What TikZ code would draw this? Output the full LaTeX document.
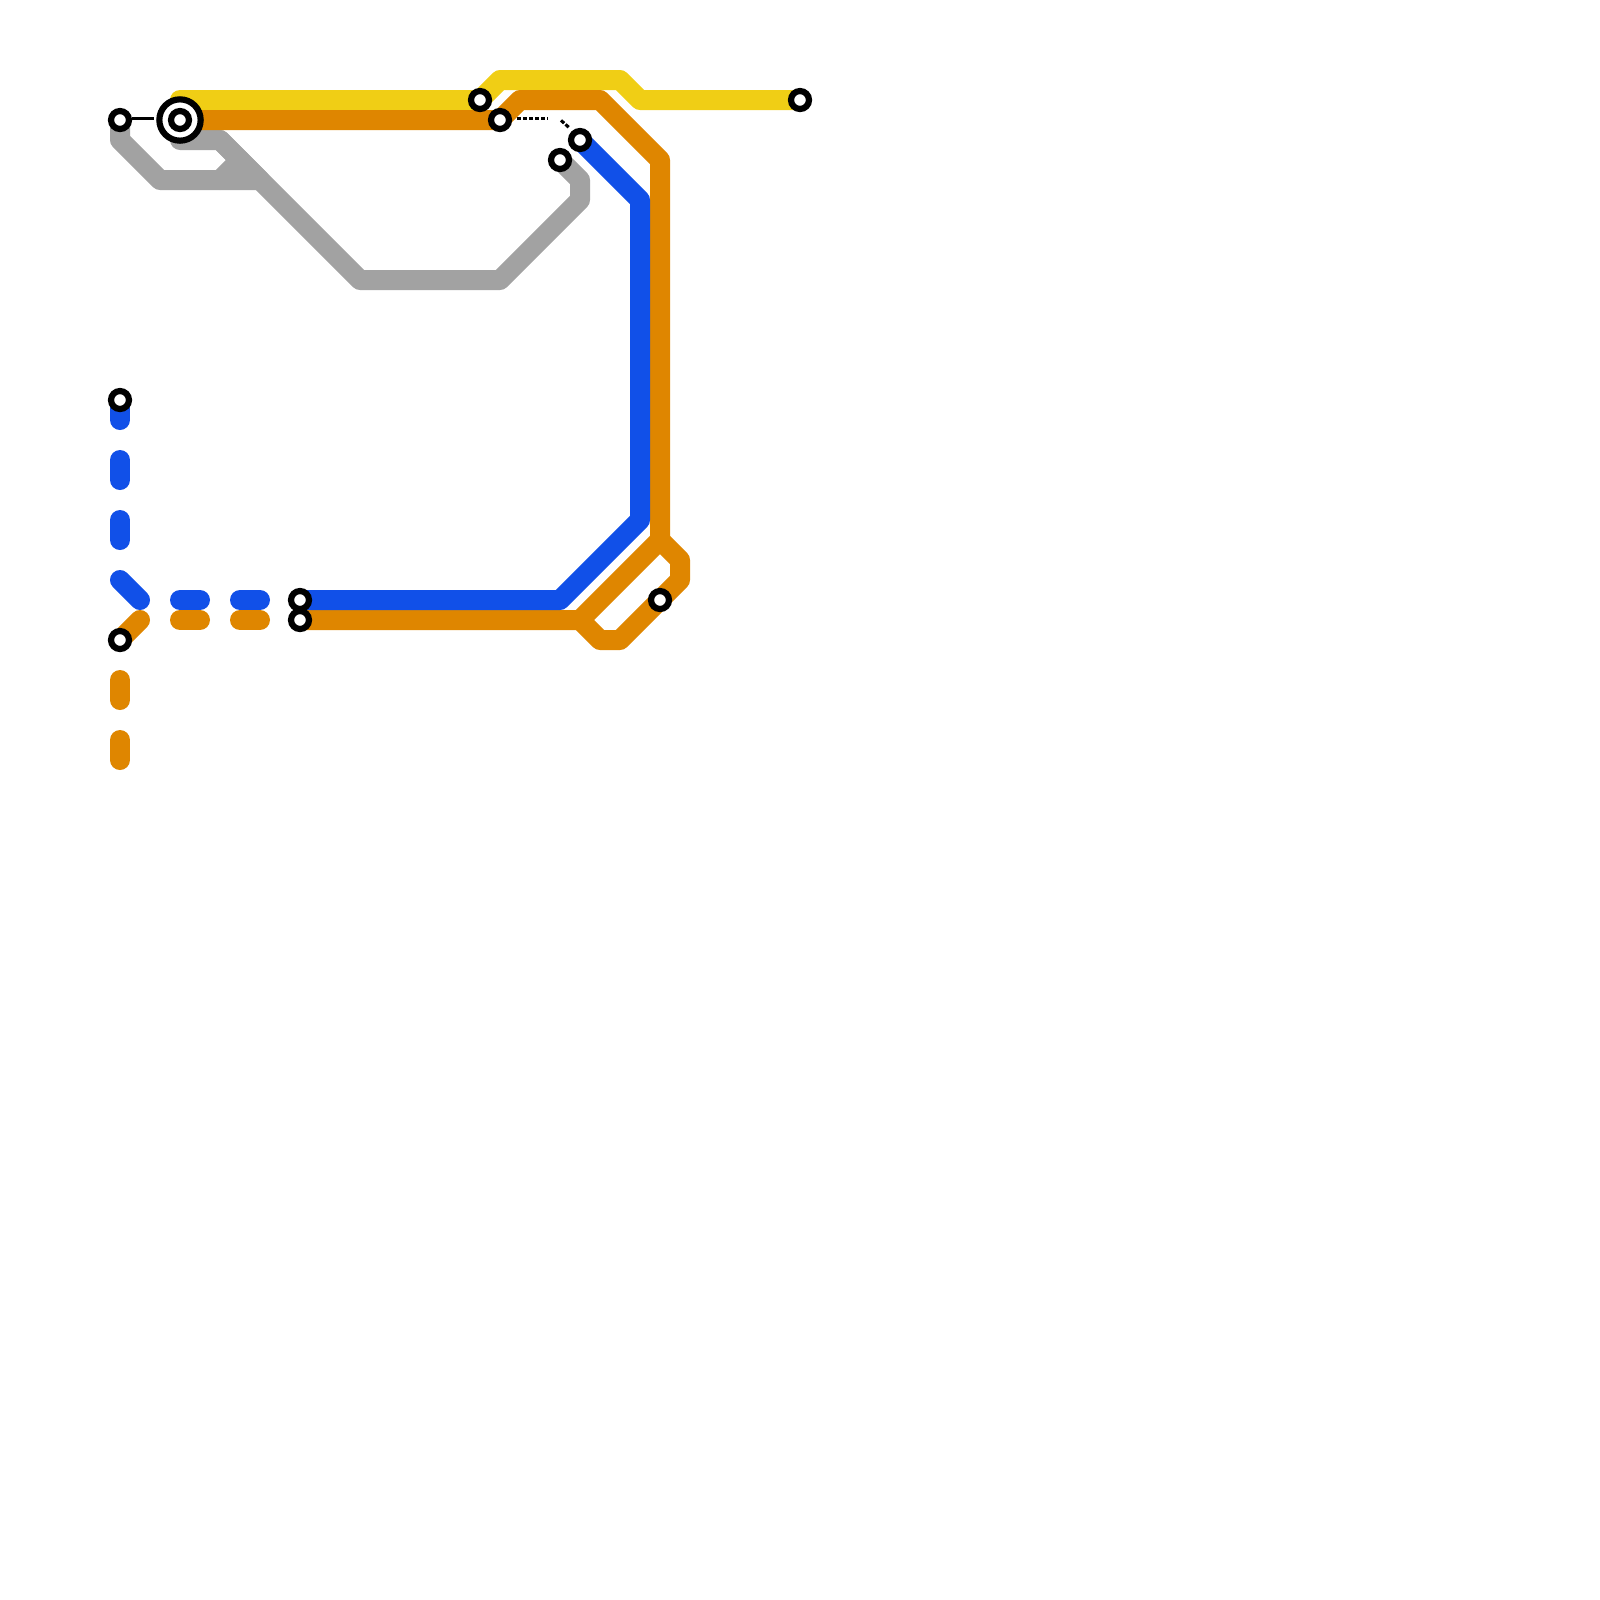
\documentclass[tikz,border=0pt]{standalone}
\usetikzlibrary{backgrounds}
\definecolor{lineyellow}{HTML}{F0CE15}
\definecolor{lineorange}{HTML}{DF8600}
\definecolor{lineblue}{HTML}{1150E8}
\definecolor{linegray}{HTML}{A2A2A2}
\begin{document}
\begin{tikzpicture}[
    x=0.25cm, y=-0.25cm,
    stop/.style={circle, draw=black, fill=white, line width=2.2pt, minimum size=6.4pt, inner sep=0pt, outer sep=0pt},
    bigstop/.style={circle, draw=black, fill=white, line width=2.2pt, minimum size=14.7pt, inner sep=0pt, outer sep=0pt},
    route/.style={line width=0.25cm, line cap=round, line join=round},
    link/.style={line width=1.1pt, black},
    dashlink/.style={link, dash pattern=on 1.5pt off 0.65pt}
]
    \useasboundingbox (0,0) rectangle (80,80);
    \node[stop] (westtop)  at (6,6)    {};
    \node[bigstop] (hubring) at (9,6)  {};
    \node[stop] (hub)      at (9,6)    {};
    \node[stop] (yellowa)  at (24,5)   {};
    \node[stop] (orangea)  at (25,6)   {};
    \node[stop] (graya)    at (28,8)   {};
    \node[stop] (bluea)    at (29,7)   {};
    \node[stop] (yellowb)  at (40,5)   {};
    \node[stop] (blueb)    at (6,20)   {};
    \node[stop] (bluec)    at (15,30)  {};
    \node[stop] (orangeb)  at (15,31)  {};
    \node[stop] (orangec)  at (33,30)  {};
    \node[stop] (oranged)  at (6,32)   {};
    \coordinate (grayend) at (9,7);
    \coordinate (linkwest) at (6.6,5.94);
    \coordinate (linkhub) at (7.68,5.94);
    \coordinate (linka) at (25.85,5.94);
    \coordinate (linkb) at (27.4,5.94);
    \coordinate (linkc) at (28.05,6.02);
    \coordinate (linkd) at (28.5,6.42);
    \begin{scope}[on background layer]
        % gray
        \draw[route, linegray] (westtop.center) -- ++(0,1) -- ++(2,2) -- ++(5,0) -- ++(-2,-2) -- (grayend);
        \draw[route, linegray] (11,9) -- (12,8);
        \draw[route, linegray] (11,7) -- ++(7,7) -- ++(7,0) -- ++(4,-4) -- ++(0,-1) -- (graya.center);
        % yellow
        \draw[route, lineyellow] (hub.center) ++(0,-1) -- (yellowa.center) -- ++(1,-1) -- ++(6,0) -- ++(1,1) -- (yellowb.center);
        % orange
        \draw[route, lineorange] (hub.center) -- (orangea.center) -- ++(1,-1) -- ++(4,0) -- ++(3,3) -- ++(0,19) -- ++(-4,4) -- (orangeb.center);
        \draw[route, lineorange] (33,27) -- ++(1,1) -- ++(0,1) -- (orangec.center) -- ++(-2,2) -- ++(-1,0) -- ++(-1,-1);
        \draw[route, lineorange] (oranged.center) -- ++(1,-1);
        \foreach \xa in {9,12} \draw[route, lineorange] (\xa,31) -- ++(1,0);
        \foreach \ya in {34,37} \draw[route, lineorange] (6,\ya) -- ++(0,1);
        % blue
        \draw[route, lineblue] (bluea.center) -- ++(3,3) -- ++(0,16) -- ++(-4,4) -- (bluec.center);
        \draw[route, lineblue] (blueb.center) -- ++(0,1);
        \foreach \ya in {23,26} \draw[route, lineblue] (6,\ya) -- ++(0,1);
        \draw[route, lineblue] (6,29) -- ++(1,1);
        \foreach \xa in {9,12} \draw[route, lineblue] (\xa,30) -- ++(1,0);
    \end{scope}
    % thin links
    \draw[link] (linkwest) -- (linkhub);
    \draw[dashlink] (linka) -- (linkb);
    \draw[dashlink] (linkc) -- (linkd);
\end{tikzpicture}
\end{document}
